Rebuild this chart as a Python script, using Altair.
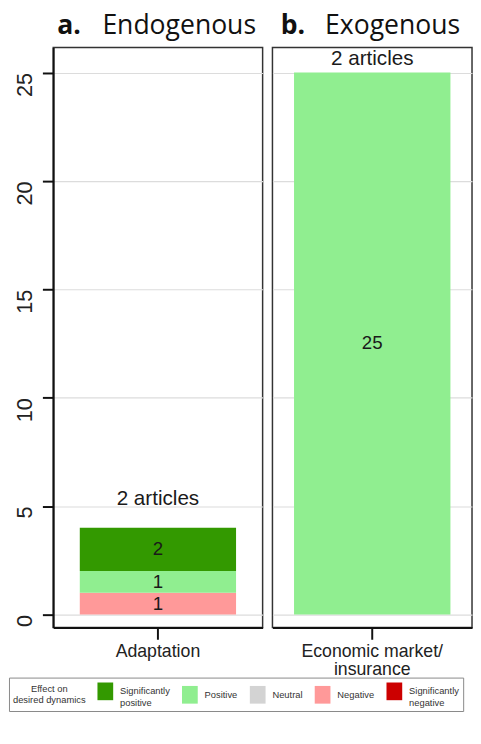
import altair as alt
import pandas as pd

# ---- values ----
panel_ids = ["a", "b"]
panel_letters = ["a.", "b."]
panel_names = ["Endogenous", "Exogenous"]
panel_categories = ["Adaptation", "Economic market/\ninsurance"]
panel_articles = ["2 articles", "2 articles"]
panel_article_y = [5.3, 25.6]

effects = ["Significantly positive", "Positive", "Neutral", "Negative", "Significantly negative"]
effect_colors = ["#339900", "#90EE90", "#D3D3D3", "#FF9999", "#CC0000"]

bar_panel = ["a", "a", "a", "b"]
bar_effect = ["Negative", "Positive", "Significantly positive", "Positive"]
bar_count = [1, 1, 2, 25]

y_ticks = [0, 5, 10, 15, 20, 25]
y_domain = [-0.6, 26.16]

# ---- tables built from the arrays ----
cat_of = dict(zip(panel_ids, panel_categories))
bars_df = pd.DataFrame({
    "panel": bar_panel,
    "category": [cat_of[p] for p in bar_panel],
    "effect": bar_effect,
    "count": bar_count,
    "rank": [len(effects) - 1 - effects.index(e) for e in bar_effect],
})
art_df = pd.DataFrame({
    "panel": panel_ids,
    "category": panel_categories,
    "label": panel_articles,
    "ypos": panel_article_y,
    "letter": panel_letters,
    "name": panel_names,
})

FONT = "Liberation Sans"
TFONT = "Open Sans"
PANEL_H = 590

color_enc = alt.Color(
    "effect:N",
    scale=alt.Scale(domain=effects, range=effect_colors),
    legend=alt.Legend(
        title=["Effect on", "desired dynamics"],
        orient="none", legendX=-45, legendY=641,
        direction="horizontal", columns=5,
        titleOrient="left", titleFontSize=9.5, titleFontWeight="normal",
        titleFont=FONT, titleColor="#333", titleAlign="center",
        titleAnchor="middle", titleBaseline="middle", titlePadding=-27,
        titleLineHeight=11,
        labelFontSize=9.5, labelFont=FONT, labelColor="#333",
        labelExpr="split(datum.label, ' ')", labelOffset=5, labelLimit=200,
        labelBaseline="middle",
        symbolType="M-0.8,-0.9H0.8V0.9H-0.8Z", symbolSize=400,
        symbolStrokeWidth=0, symbolOpacity=1,
        columnPadding=10, padding=4, strokeColor="#888", fillColor="white",
    ),
)


def make_panel(pid, width, pad_outer, show_y, letter_x, name_x):
    d = bars_df[bars_df.panel == pid]
    a = art_df[art_df.panel == pid]
    yscale = alt.Scale(domain=y_domain, nice=False, zero=False)
    if show_y:
        yaxis = alt.Axis(values=y_ticks, title=None, grid=True, gridColor="#dcdcdc",
                         gridWidth=1.2, labelAngle=270, labelAlign="right",
                         labelBaseline="bottom", labelFontSize=22, labelFont=FONT,
                         labelColor="#222", tickSize=11, tickColor="#111", tickWidth=2,
                         labelPadding=6, domainColor="#111", domainWidth=2)
    else:
        yaxis = alt.Axis(values=y_ticks, title=None, grid=True, gridColor="#dcdcdc",
                         gridWidth=1.2, labels=False, ticks=False, domain=False)
    xenc = alt.X("category:N", title=None,
                 scale=alt.Scale(paddingInner=0, paddingOuter=pad_outer),
                 axis=alt.Axis(labels=False, tickSize=12, tickColor="#111",
                               tickWidth=2, domainColor="#111", domainWidth=2))
    base = alt.Chart(d).transform_stack(
        stack="count", groupby=["category"],
        sort=[alt.SortField("rank", order="ascending")], as_=["y0", "y1"]
    ).transform_calculate(mid="(datum.y0 + datum.y1) / 2")
    bars = base.mark_bar().encode(
        x=xenc,
        y=alt.Y("y0:Q", scale=yscale, axis=yaxis),
        y2="y1:Q",
        color=color_enc,
    )
    vals = base.mark_text(font=FONT, fontSize=19, color="#1a1a1a", baseline="middle").encode(
        x="category:N", y="mid:Q", text="count:Q"
    )
    arts = alt.Chart(a).mark_text(font=FONT, fontSize=21, color="#1a1a1a",
                                  baseline="middle").encode(
        x="category:N", y="ypos:Q", text="label:N"
    )
    xlab = alt.Chart(a).mark_text(font=FONT, fontSize=18, color="#222",
                                  baseline="alphabetic", lineBreak="\n",
                                  lineHeight=18).encode(
        x="category:N", y=alt.value(PANEL_H + 30), text="category:N"
    )
    let = alt.Chart(a).mark_text(font=TFONT, fontSize=27, fontWeight="bold",
                                 color="#111", align="left",
                                 baseline="alphabetic").encode(
        x=alt.value(letter_x), y=alt.value(-14), text="letter:N"
    )
    nam = alt.Chart(a).mark_text(font=TFONT, fontSize=27, color="#111",
                                 align="left", baseline="alphabetic").encode(
        x=alt.value(name_x), y=alt.value(-14), text="name:N"
    )
    return alt.layer(bars, vals, arts, xlab, let, nam).properties(width=width, height=PANEL_H)


panel_a = make_panel("a", 213, 0.17, True, 4, 50)
panel_b = make_panel("b", 203, 0.138, False, 8.5, 53.5)

chart = alt.hconcat(panel_a, panel_b, spacing=8).resolve_scale(
    color="shared"
).resolve_legend(color="shared").properties(
    padding={"left": 0, "top": -3, "right": 0, "bottom": 0}
).configure_view(stroke="#333", strokeWidth=1.5)

chart.save("out.html", embed_options={"renderer": "svg", "actions": False})
